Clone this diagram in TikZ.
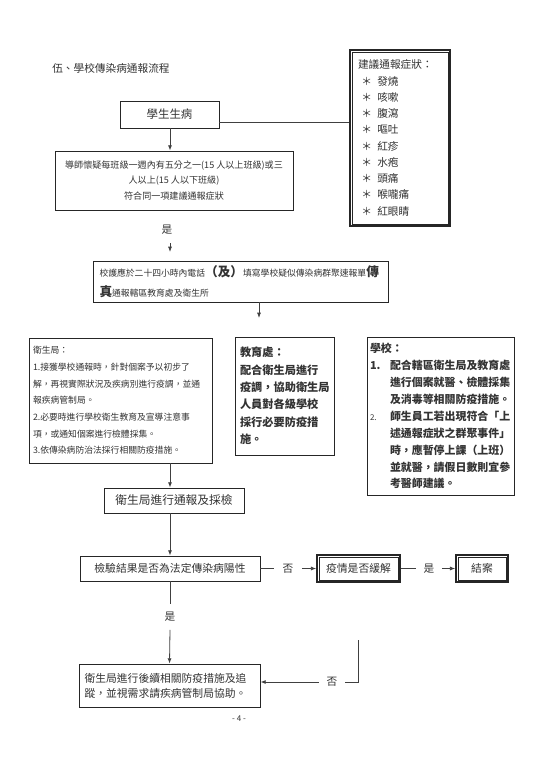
\documentclass[tikz,border=0pt]{standalone}
\usepackage{fontspec}
\setmainfont{Noto Sans CJK TC}
\usetikzlibrary{arrows.meta}
\newcommand{\fsz}[2]{\fontsize{#1}{#2}\selectfont}
\newcommand{\pxl}{0.75pt}
\newcommand{\sym}{\hspace*{2.5pt}\makebox[12pt][l]{＊}}
\newcommand{\innerbox}[1]{\draw[draw=black!85,line width=0.45pt] ([shift={(2pt,-2pt)}]#1.north west) rectangle ([shift={(-2pt,2pt)}]#1.south east);}
\begin{document}
\begin{tikzpicture}[x=0.75pt,y=-0.75pt,
  box/.style={draw=black!85, line width=0.6pt, inner sep=0pt, text=black!80},
  dbl/.style={draw=black!85, line width=1.1pt, inner sep=0pt, text=black!80},
  lbl/.style={inner sep=0pt, text=black!80},
  conn/.style={draw=black!75, line width=0.6pt},
  arr/.style={conn, -{Latex[length=4pt,width=3pt]}},
]
\useasboundingbox[fill=white] (0,0) rectangle (543,768);

\coordinate (colx) at (170,0);
\coordinate (cy) at (0,122);

\node[lbl, anchor=west, font=\fsz{8}{10}] (title) at (52,68) {伍、學校傳染病通報流程};

\node[box, minimum width=99*\pxl, minimum height=27*\pxl, font=\fsz{8.6}{10}] (sick) at (169.5,114.5) {學生生病};

\node[dbl, minimum width=100*\pxl, minimum height=176*\pxl, text width=84*\pxl, align=left, font=\fsz{8}{12.2}] (symp) at (400,138)
{建議通報症狀：\\\sym 發燒\\\sym 咳嗽\\\sym 腹瀉\\\sym 嘔吐\\\sym 紅疹\\\sym 水疱\\\sym 頭痛\\\sym 喉嚨痛\\\sym 紅眼睛};
\innerbox{symp}

\draw[conn] (sick.east |- cy) -- (symp.west |- cy);

\node[box, minimum width=238*\pxl, minimum height=59*\pxl, align=center, font=\fsz{6.8}{11.6}] (tutor) at (174,180.5)
{導師懷疑每班級一週內有五分之一(15 人以上班級)或三\\人以上(15 人以下班級)\\符合同一項建議通報症狀};
\draw[arr] (colx |- sick.south) -- (colx |- tutor.north);

\node[lbl, font=\fsz{8}{10}] (yes1) at (167,230) {是};
\coordinate (a0) at (170,243);
\coordinate (a1) at (170,252);
\draw[arr] (a0) -- (a1);

\node[box, minimum width=295*\pxl, minimum height=41*\pxl, text width=282*\pxl, align=left, font=\fsz{6.6}{15}] (nurse) at (240.5,281.5)
{校護應於二十四小時內電話{\bfseries\fsz{9.5}{15}（及）}填寫學校疑似傳染病群聚速報單{\bfseries\fsz{9.5}{15}傳}\\{\bfseries\fsz{9.5}{15}真}通報轄區教育處及衛生所};
\coordinate (a2) at (259,318);
\draw[arr] (nurse.south -| a2) -- (a2);

\node[box, minimum width=183*\pxl, minimum height=125*\pxl, text width=175*\pxl, align=left, font=\fsz{6.6}{12.5}] (hb) at (120.5,400.5)
{衛生局：\\1.接獲學校通報時，針對個案予以初步了\\解，再視實際狀況及疾病別進行疫調，並通\\報疾病管制局。\\2.必要時進行學校衛生教育及宣導注意事\\項，或通知個案進行檢體採集。\\3.依傳染病防治法採行相關防疫措施。};

\node[box, minimum width=99*\pxl, minimum height=118*\pxl, text width=89*\pxl, align=left, font=\bfseries\fsz{8.4}{13}] (edu) at (284.5,396)
{教育處：\\配合衛生局進行\\疫調，協助衛生局\\人員對各級學校\\採行必要防疫措\\施。};

\node[box, minimum width=147*\pxl, minimum height=158*\pxl, text width=141*\pxl, align=left, font=\bfseries\fsz{8.2}{12.7}] (school) at (440.5,416)
{學校：\\\makebox[15pt][l]{1.}配合轄區衛生局及教育處\\\hspace*{15pt}進行個案就醫、檢體採集\\\hspace*{15pt}及消毒等相關防疫措施。\\\makebox[15pt][l]{\mdseries\fsz{6}{12.7}2.}師生員工若出現符合「上\\\hspace*{15pt}述通報症狀之群聚事件」\\\hspace*{15pt}時，應暫停上課（上班）\\\hspace*{15pt}並就醫，請假日數則宜參\\\hspace*{15pt}考醫師建議。};

\node[box, minimum width=140*\pxl, minimum height=25*\pxl, font=\fsz{8.8}{10}] (report) at (174,500.5) {衛生局進行通報及採檢};
\draw[arr] (colx |- hb.south) -- (colx |- report.north);

\node[box, minimum width=180*\pxl, minimum height=25*\pxl, font=\fsz{8.1}{10}] (test) at (170,568.5) {檢驗結果是否為法定傳染病陽性};
\draw[arr] (colx |- report.south) -- (colx |- test.north);

\node[lbl, minimum width=27*\pxl, font=\fsz{8}{10}] (no1) at (288,568.5) {否};
\node[dbl, minimum width=83*\pxl, minimum height=27*\pxl, font=\fsz{8.1}{10}] (epid) at (358.5,568.5) {疫情是否緩解};
\innerbox{epid}
\draw[conn] (test.east) -- (no1.west);
\draw[arr] (no1.east) -- (epid.west);

\node[lbl, minimum width=25*\pxl, font=\fsz{8}{10}] (yes2) at (429,568.5) {是};
\node[dbl, minimum width=52*\pxl, minimum height=27*\pxl, font=\fsz{8.1}{10}] (close) at (482,568.5) {結案};
\innerbox{close}
\draw[conn] (epid.east) -- (yes2.west);
\draw[arr] (yes2.east) -- (close.west);

\node[lbl, minimum height=25*\pxl, font=\fsz{8}{10}] (yes3) at (170,617) {是};
\node[box, minimum width=181*\pxl, minimum height=43*\pxl, text width=170*\pxl, align=left, font=\fsz{8.1}{11.3}] (final) at (169.5,685.5)
{衛生局進行後續相關防疫措施及追\\蹤，並視需求請疾病管制局協助。};
\draw[conn] (test.south) -- (yes3.north);
\draw[arr] (yes3.south) -- (final.north);

\node[lbl, minimum width=26*\pxl, font=\fsz{8}{10}] (no3) at (332,682) {否};
\coordinate (top3) at (358,640);
\draw[conn] (top3) |- (no3.east);
\draw[arr] (no3.west) -- (no3.west -| final.east);

\node[lbl, font=\fsz{6}{8}] (page) at (239,719) {- 4 -};
\end{tikzpicture}
\end{document}
